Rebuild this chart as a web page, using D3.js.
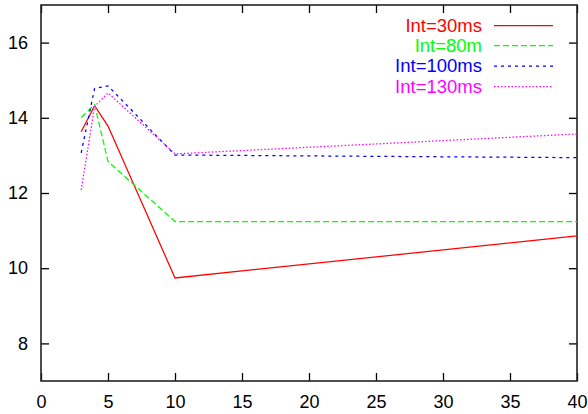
<!DOCTYPE html>
<html><head><meta charset="utf-8">
<script src="https://cdn.jsdelivr.net/npm/d3@7"></script>
<style>
html,body{margin:0;padding:0;background:#fff;}
svg{display:block;font-family:"Liberation Sans",Arial,Helvetica,sans-serif;}
</style></head>
<body><svg id="c" width="588" height="414"></svg>
<script>
const xValues = [3, 4, 5, 10, 40];
const seriesNames = ["Int=30ms", "Int=80m", "Int=100ms", "Int=130ms"];
const int30 = [13.63, 14.32, 13.78, 9.74, 10.86];
const int80 = [14.01, 14.35, 12.84, 11.24, 11.24];
const int100 = [13.07, 14.78, 14.85, 13.01, 12.94];
const int130 = [12.08, 14.30, 14.66, 13.04, 13.57];
const xTicks = [0, 5, 10, 15, 20, 25, 30, 35, 40];
const yTicks = [8, 10, 12, 14, 16];

const colors = ["#ff0000", "#00ff00", "#0000ff", "#ff00ff"];
const dashes = [null, "6,3", "3,4", "1.5,2"];
const seriesValues = [int30, int80, int100, int130];

const L = 41, R = 577, T = 5, B = 381;
const svg = d3.select("#c");
const x = d3.scaleLinear().domain([0, 40]).range([L, R]);
const y = d3.scaleLinear().domain([7, 17]).range([B, T]);

function styleAxis(g, labels) {
  g.select(".domain").remove();
  g.selectAll("line").attr("stroke", "#000").attr("stroke-width", 1.3);
  g.selectAll("text").attr("fill", "#000").style("font-size", "18px")
    .style("font-family", '"Liberation Sans",Arial,Helvetica,sans-serif');
  if (!labels) g.selectAll("text").remove();
}

svg.append("g").attr("transform", `translate(0,${B})`)
  .call(d3.axisBottom(x).tickValues(xTicks).tickSize(-8).tickPadding(14).tickFormat(d3.format("d")))
  .call(g => styleAxis(g, true));
svg.append("g").attr("transform", `translate(0,${T})`)
  .call(d3.axisTop(x).tickValues(xTicks).tickSize(-8))
  .call(g => styleAxis(g, false));
svg.append("g").attr("transform", `translate(${L},0)`)
  .call(d3.axisLeft(y).tickValues(yTicks).tickSize(-8).tickPadding(13).tickFormat(d3.format("d")))
  .call(g => styleAxis(g, true));
svg.append("g").attr("transform", `translate(${R},0)`)
  .call(d3.axisRight(y).tickValues(yTicks).tickSize(-8))
  .call(g => styleAxis(g, false));

svg.append("rect").attr("x", L).attr("y", T).attr("width", R - L).attr("height", B - T)
  .attr("fill", "none").attr("stroke", "#222").attr("stroke-width", 1.6);

const line = d3.line().x((d, i) => x(xValues[i])).y(d => y(d));
seriesValues.forEach((vals, k) => {
  svg.append("path").datum(vals).attr("d", line)
    .attr("fill", "none").attr("stroke", colors[k]).attr("stroke-width", 1.25)
    .attr("stroke-dasharray", dashes[k]);
});

// legend
const legY = [25.5, 45.5, 66, 86.5];
seriesNames.forEach((name, k) => {
  svg.append("text").attr("x", 482).attr("y", legY[k]).attr("dy", "0.35em")
    .attr("text-anchor", "end").attr("fill", colors[k]).style("font-size", "18.5px").text(name);
  svg.append("line").attr("x1", 494).attr("x2", 553).attr("y1", legY[k]).attr("y2", legY[k])
    .attr("stroke", colors[k]).attr("stroke-width", 1.25).attr("stroke-dasharray", dashes[k]);
});
</script></body></html>
